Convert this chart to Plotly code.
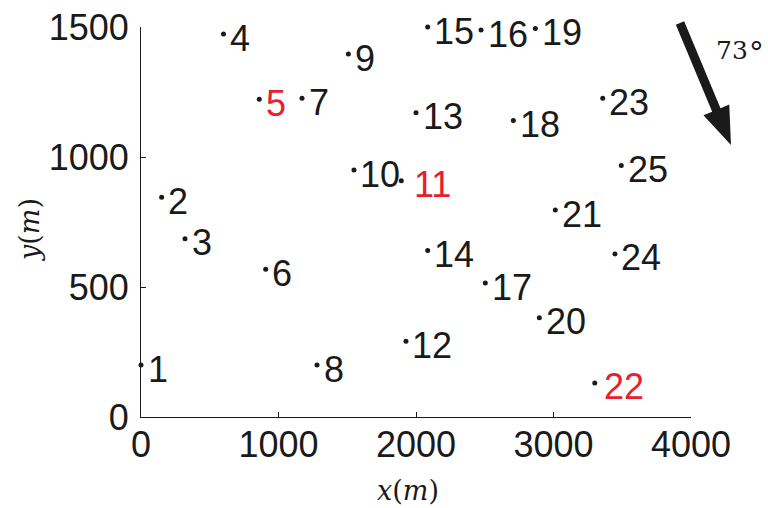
import math
import plotly.graph_objects as go

# ---- data ----
station_ids = list(range(1, 26))
x_m = [0, 150, 320, 600, 860, 907, 1171, 1280, 1508, 1549, 1893, 1927, 2000,
       2085, 2085, 2473, 2504, 2708, 2868, 2897, 3013, 3300, 3358, 3447, 3493]
y_m = [200, 845, 686, 1473, 1222, 568, 1226, 200, 1396, 950, 909, 291, 1170,
       640, 1500, 1488, 515, 1140, 1494, 382, 796, 131, 1226, 627, 967]
highlight_ids = [5, 11, 22]
x_ticks = [0, 1000, 2000, 3000, 4000]
y_ticks = [0, 500, 1000, 1500]
wind_angle_deg = 73

# ---- layout constants ----
W, H = 768, 508
L, R, T, B = 141, 77, 27, 91
PW, PH = W - L - R, H - T - B
INK = "#1a1a1a"
RED = "#e8202e"
SANS = "Liberation Sans, Arial, Helvetica, sans-serif"
SERIF = "DejaVu Serif, Liberation Serif, serif"


def px2paper(px, py):
    return (px - L) / PW, (H - B - py) / PH


fig = go.Figure()
fig.add_trace(go.Scatter(
    x=x_m, y=y_m, mode="markers", cliponaxis=False,
    marker=dict(size=5, color=INK),
    hoverinfo="skip", showlegend=False,
))

annotations = []
for sid, xv, yv in zip(station_ids, x_m, y_m):
    shift = 4.5
    if sid == 11:
        shift = 11
    elif sid == 22:
        shift = 7
    annotations.append(dict(
        x=xv, y=yv, xref="x", yref="y", text=str(sid), showarrow=False,
        xanchor="left", yanchor="middle", xshift=shift, yshift=-4,
        font=dict(family=SANS, size=36, color=RED if sid in highlight_ids else INK),
    ))

# axis labels
ax_x, ax_y = px2paper(408, 490)
annotations.append(dict(
    x=ax_x, y=ax_y, xref="paper", yref="paper", showarrow=False,
    text="<i>x</i>(<i>m</i>)", xanchor="center", yanchor="middle",
    font=dict(family=SERIF, size=27, color=INK),
))
ay_x, ay_y = px2paper(30, 230)
annotations.append(dict(
    x=ay_x, y=ay_y, xref="paper", yref="paper", showarrow=False,
    text="<i>y</i>(<i>m</i>)", xanchor="center", yanchor="middle", textangle=-90,
    font=dict(family=SERIF, size=27, color=INK),
))

# angle label
lx, ly = px2paper(732, 50)
annotations.append(dict(
    x=lx, y=ly, xref="paper", yref="paper", showarrow=False,
    text=f"{wind_angle_deg}", xanchor="center", yanchor="middle",
    font=dict(family=SERIF, size=25, color=INK),
))
dgx, dgy = px2paper(756, 45)
annotations.append(dict(
    x=dgx, y=dgy, xref="paper", yref="paper", showarrow=False,
    text="∘", xanchor="center", yanchor="middle", borderpad=0,
    font=dict(family="DejaVu Sans, sans-serif", size=30, color=INK),
))

# arrow polygon (pixel geometry -> paper)
tail = (680, 23)
tip = (731, 145)
dx, dy = tip[0] - tail[0], tip[1] - tail[1]
ln = math.hypot(dx, dy)
ux, uy = dx / ln, dy / ln
nx, ny = uy, -ux
hw, head_len, head_hw = 4.5, 38, 14
bx, by = tip[0] - head_len * ux, tip[1] - head_len * uy
pts = [
    (tail[0] + hw * nx, tail[1] + hw * ny),
    (bx + hw * nx, by + hw * ny),
    (bx + head_hw * nx, by + head_hw * ny),
    tip,
    (bx - head_hw * nx, by - head_hw * ny),
    (bx - hw * nx, by - hw * ny),
    (tail[0] - hw * nx, tail[1] - hw * ny),
]
ppts = [px2paper(*p) for p in pts]
path = "M " + " L ".join(f"{a:.5f},{b:.5f}" for a, b in ppts) + " Z"

axis_common = dict(
    ticks="inside", ticklen=5, tickwidth=1, tickcolor=INK,
    showline=True, linecolor=INK, linewidth=1, mirror=False,
    showgrid=False, zeroline=False, fixedrange=True, automargin=False,
    tickfont=dict(family=SANS, size=36, color=INK),
)

fig.update_layout(
    width=W, height=H,
    margin=dict(l=L, r=R, t=T, b=B, pad=0, autoexpand=False),
    paper_bgcolor="white", plot_bgcolor="white",
    annotations=annotations,
    shapes=[dict(type="path", path=path, xref="paper", yref="paper",
                 fillcolor=INK, line=dict(width=0), layer="above")],
    xaxis=dict(range=[0, 4000], tickvals=x_ticks, ticktext=[str(v) for v in x_ticks],
               ticklabelstandoff=-4, **axis_common),
    yaxis=dict(range=[0, 1500], tickvals=y_ticks, ticktext=[str(v) for v in y_ticks],
               ticklabelstandoff=4, **axis_common),
)

fig.write_html("out.html", config={"displayModeBar": False},
               post_script="document.body.style.margin='0';")
